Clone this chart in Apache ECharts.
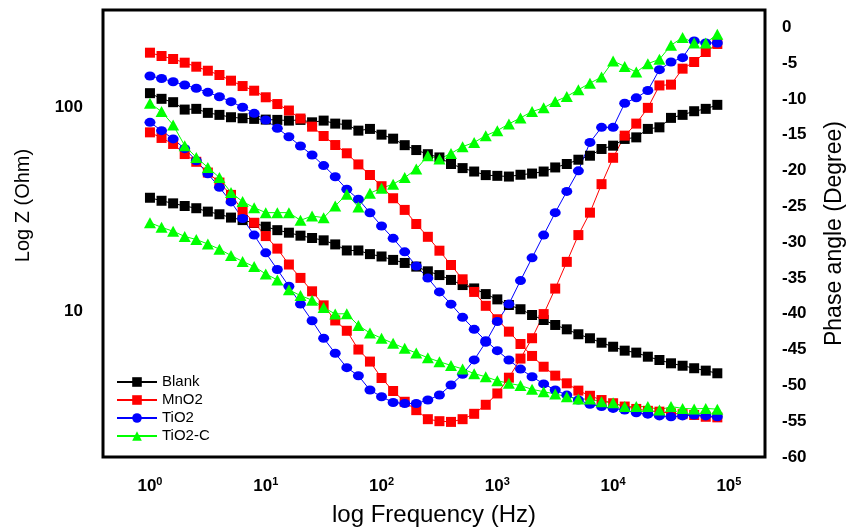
<!DOCTYPE html>
<html>
<head>
<meta charset="utf-8">
<script src="https://cdn.jsdelivr.net/npm/echarts@6/dist/echarts.min.js"></script>
<style>
html,body{margin:0;padding:0;background:#fff;}
#c{width:850px;height:527px;}
</style>
</head>
<body>
<div id="c"></div>
<script>
// Frequency (Hz), 10 points per decade
const freq = [1, 1.259, 1.585, 1.995, 2.512, 3.162, 3.981, 5.012, 6.310, 7.943,
  10, 12.59, 15.85, 19.95, 25.12, 31.62, 39.81, 50.12, 63.10, 79.43,
  100, 125.9, 158.5, 199.5, 251.2, 316.2, 398.1, 501.2, 631.0, 794.3,
  1000, 1259, 1585, 1995, 2512, 3162, 3981, 5012, 6310, 7943,
  10000, 12589, 15849, 19953, 25119, 31623, 39811, 50119, 63096, 79433];

const names = ['Blank', 'MnO2', 'TiO2', 'TiO2-C'];

// |Z| (Ohm)
const blankZ = [35.9,34.7,33.7,32.7,31.9,30.7,29.8,28.7,27.9,27.0,
  25.9,24.9,24.2,23.4,22.8,22.2,21.2,19.8,19.8,19.0,
  18.5,17.8,17.2,16.5,15.65,15.0,14.2,13.4,12.9,12.1,
  11.4,10.7,10.2,9.56,9.03,8.54,8.13,7.69,7.35,6.99,
  6.68,6.39,6.25,5.97,5.75,5.54,5.39,5.24,5.10,4.95];
const mno2Z = [184.6,177.8,171.9,164.9,157.6,150.6,143.5,134.6,126.7,120.2,
  111.6,103.4,96.1,87.8,80.1,72.1,65.1,59.3,52.3,46.4,
  40.9,35.7,31.3,26.7,23.1,19.75,16.8,14.3,12.4,10.6,
  9.11,7.92,6.89,6.02,5.33,4.82,4.42,4.07,3.84,3.66,
  3.53,3.40,3.31,3.24,3.21,3.15,3.12,3.09,3.03,3.01];
const tio2Z = [141.9,138.0,133.0,128.2,123.5,118.0,112.3,106.2,99.7,93.1,
  86.3,78.6,71.5,64.4,58.2,51.6,45.5,39.5,35.3,30.3,
  26.1,22.7,19.5,16.6,14.5,12.4,10.8,9.31,8.13,7.15,
  6.39,5.75,5.19,4.76,4.39,4.10,3.87,3.66,3.49,3.40,
  3.33,3.27,3.17,3.12,3.06,3.03,3.06,3.09,3.06,3.03];
const tio2cZ = [27.1,25.7,24.6,23.2,22.4,21.3,20.1,18.7,17.5,16.5,
  15.2,14.2,12.7,11.9,11.3,10.4,9.67,9.70,8.49,7.80,
  7.35,6.94,6.56,6.22,5.90,5.64,5.41,5.20,4.93,4.76,
  4.55,4.42,4.31,4.13,4.02,3.92,3.80,3.70,3.70,3.59,
  3.55,3.40,3.40,3.40,3.27,3.40,3.33,3.31,3.33,3.30];

// Phase angle (Degree)
const blankPhase = [-9.21,-10.0,-10.47,-11.5,-11.4,-11.96,-12.24,-12.57,-12.71,-12.8,
  -12.9,-12.94,-13.04,-12.94,-13.28,-13.04,-13.46,-13.6,-14.44,-14.2,
  -15.0,-15.56,-16.47,-17.15,-17.73,-18.18,-19.1,-19.67,-20.15,-20.65,
  -20.75,-20.85,-20.6,-20.43,-20.15,-19.58,-19.1,-18.5,-17.94,-17.0,
  -16.54,-15.6,-15.38,-14.2,-13.98,-12.66,-12.24,-11.73,-11.4,-10.84];
const mno2Phase = [-14.68,-15.46,-16.3,-17.71,-18.79,-20.29,-21.69,-23.41,-25.56,-27.3,
  -29.16,-30.91,-33.13,-35.0,-36.87,-38.83,-40.94,-42.38,-45.0,-46.68,
  -48.97,-50.79,-52.29,-53.46,-54.72,-55.0,-55.1,-54.72,-53.97,-52.71,
  -51.13,-48.93,-46.26,-43.42,-40.05,-36.49,-32.76,-29.02,-25.89,-21.91,
  -18.23,-15.14,-13.46,-11.26,-8.13,-8.02,-5.79,-4.86,-3.46,-2.34];
const tio2Phase = [-13.28,-14.44,-15.6,-16.96,-18.65,-20.47,-22.36,-24.39,-26.71,-29.02,
  -31.5,-33.83,-36.17,-38.65,-40.98,-43.42,-45.52,-47.53,-48.65,-50.65,
  -51.59,-52.39,-52.53,-52.53,-52.05,-51.35,-49.95,-48.46,-46.45,-43.98,
  -41.08,-38.65,-35.37,-32.2,-29.02,-25.89,-22.92,-20.05,-16.08,-13.98,
  -13.98,-10.61,-9.86,-8.83,-5.93,-4.86,-4.25,-1.92,-2.2,-2.2];
const tio2cPhase = [-10.61,-11.78,-13.64,-16.54,-18.18,-19.58,-20.99,-23.09,-24.35,-25.19,
  -25.89,-25.89,-25.89,-26.96,-26.36,-26.59,-24.95,-23.31,-25.09,-23.17,
  -22.47,-21.91,-20.99,-19.81,-17.94,-18.41,-17.62,-16.68,-16.08,-15.14,
  -14.44,-13.5,-12.66,-11.78,-11.26,-10.37,-9.67,-8.73,-7.81,-6.97,
  -4.72,-5.47,-6.27,-5.09,-4.49,-2.52,-1.44,-2.2,-2.2,-0.98];

const phaseTicks = [-60,-55,-50,-45,-40,-35,-30,-25,-20,-15,-10,-5,0];

const FONT = 'Liberation Sans, Arial, sans-serif';
const styles = {
  'Blank':  {color:'#000000', symbol:'rect', size:10},
  'MnO2':   {color:'#ff0000', symbol:'rect', size:10},
  'TiO2':   {color:'#0000ff', symbol:'circle', size:[11,9]},
  'TiO2-C': {color:'#00ff00', symbol:'triangle', size:[12,11]}
};
const zData = {'Blank':blankZ, 'MnO2':mno2Z, 'TiO2':tio2Z, 'TiO2-C':tio2cZ};
const pData = {'Blank':blankPhase, 'MnO2':mno2Phase, 'TiO2':tio2Phase, 'TiO2-C':tio2cPhase};

const series = [];
names.forEach(n => {
  const st = styles[n];
  [[zData[n], 0], [pData[n], 1]].forEach(([arr, ax]) => {
    series.push({
      name: n, type: 'line', yAxisIndex: ax,
      data: arr.map((v, i) => [freq[i], v]),
      symbol: st.symbol, symbolSize: st.size, showSymbol: true,
      itemStyle: {color: st.color, opacity: 1},
      lineStyle: {color: st.color, width: 1},
      emphasis: {disabled: true}
    });
  });
});

const isPow10 = v => { const e = Math.log10(v); return Math.abs(e - Math.round(e)) < 1e-6; };

const chart = echarts.init(document.getElementById('c'), null, {renderer:'canvas'});
chart.setOption({
  animation: false,
  backgroundColor: '#ffffff',
  textStyle: {fontFamily: FONT},
  grid: {left:103, right:85, top:10, bottom:70, show:true, borderColor:'#000', borderWidth:3,
    backgroundColor:'transparent', containLabel:false, outerBoundsMode:'none'},
  legend: {
    data: names, orient:'vertical', left:111, top:369,
    itemWidth:40, itemHeight:12, itemGap:2,
    textStyle:{fontSize:15, fontFamily:FONT, color:'#000', lineHeight:16},
    selectedMode:false
  },
  xAxis: {
    type:'log', logBase:10, min:0.393, max:205000,
    axisLine:{show:false}, axisTick:{show:false}, splitLine:{show:false},
    axisLabel:{
      margin:19,
      formatter: v => isPow10(v) ? '{b|10}{s|' + Math.round(Math.log10(v)) + '}' : '',
      rich:{
        b:{fontSize:17, fontWeight:'bold', fontFamily:FONT, color:'#000'},
        s:{fontSize:11, fontWeight:'bold', fontFamily:FONT, color:'#000', padding:[0,0,9,0]}
      }
    },
    name:'log Frequency (Hz)', nameLocation:'middle', nameGap:46, nameMoveOverlap:false,
    nameTextStyle:{fontSize:24, fontFamily:FONT, color:'#000'}
  },
  yAxis: [
    {
      type:'log', logBase:10, min:1.924, max:298.9, position:'left',
      axisLine:{show:false}, axisTick:{show:false}, splitLine:{show:false},
      axisLabel:{margin:20, fontSize:17, fontWeight:'bold', fontFamily:FONT, color:'#000',
        formatter: v => isPow10(v) && v > 5 ? String(Math.round(v)) : ''},
      name:'Log Z (Ohm)', nameLocation:'middle', nameGap:70, nameRotate:90, nameMoveOverlap:false,
      nameTextStyle:{fontSize:20, fontFamily:FONT, color:'#000', padding:[0,0,0,56]}
    },
    {
      type:'value', min:-60, max:2.4, interval:5, position:'right',
      axisLine:{show:false}, axisTick:{show:false}, splitLine:{show:false},
      axisLabel:{margin:17, fontSize:17, fontWeight:'bold', fontFamily:FONT, color:'#000',
        showMaxLabel:false,
        formatter: v => phaseTicks.indexOf(Math.round(v)) >= 0 && Math.abs(v - Math.round(v)) < 1e-6 ? String(Math.round(v)) : ''},
      name:'Phase angle (Degree)', nameLocation:'middle', nameGap:58, nameRotate:90, nameMoveOverlap:false,
      nameTextStyle:{fontSize:23, fontFamily:FONT, color:'#000'}
    }
  ],
  series: series
});
</script>
</body>
</html>
